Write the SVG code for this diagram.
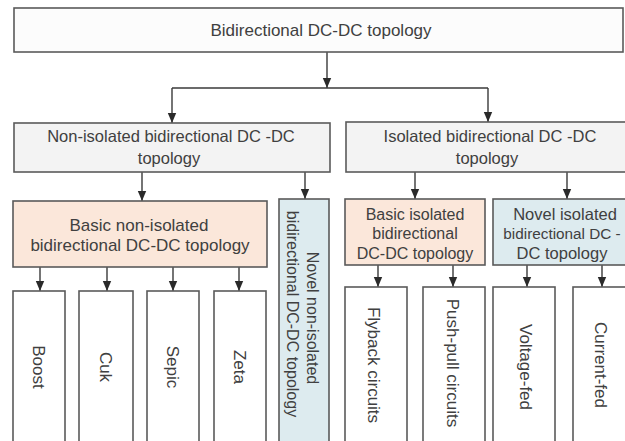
<svg xmlns="http://www.w3.org/2000/svg" width="625" height="441" viewBox="0 0 625 441">
<style>
  .box{stroke:#5a5a5a;stroke-width:1.6}
  .top{fill:#fcfcfc}
  .l2{fill:#f3f3f3}
  .peach{fill:#fbe7da}
  .blue{fill:#ddebef}
  .leaf{fill:#ffffff}
  text{font-family:"Liberation Sans",Arial,sans-serif;fill:#404040;text-anchor:middle}
  .t17{font-size:17px}
  .t16{font-size:16.5px}
  .t15{font-size:16px}
  .conn{stroke:#3a3a3a;stroke-width:1.4;fill:none}
</style>
<defs>
  <marker id="arr" markerUnits="userSpaceOnUse" markerWidth="10" markerHeight="10" viewBox="0 0 10 10" refX="10" refY="5" orient="auto">
    <path d="M0,0.8 L10,5 L0,9.2 Z" fill="#2a2a2a"/>
  </marker>
</defs>
<rect width="625" height="441" fill="#ffffff"/>

<g id="connectors">
  <path class="conn" d="M327 52 V88" marker-end="url(#arr)"/>
  <path class="conn" d="M172 88 H488"/>
  <path class="conn" d="M172 88 V123" marker-end="url(#arr)"/>
  <path class="conn" d="M488 88 V122" marker-end="url(#arr)"/>
  <path class="conn" d="M142 172 V201" marker-end="url(#arr)"/>
  <path class="conn" d="M305 172 V199" marker-end="url(#arr)"/>
  <path class="conn" d="M415 172 V199" marker-end="url(#arr)"/>
  <path class="conn" d="M567 172 V199" marker-end="url(#arr)"/>
  <path class="conn" d="M40 267 V291" marker-end="url(#arr)"/>
  <path class="conn" d="M107 267 V291" marker-end="url(#arr)"/>
  <path class="conn" d="M173 267 V291" marker-end="url(#arr)"/>
  <path class="conn" d="M239 267 V291" marker-end="url(#arr)"/>
  <path class="conn" d="M378 265 V287" marker-end="url(#arr)"/>
  <path class="conn" d="M453 265 V287" marker-end="url(#arr)"/>
  <path class="conn" d="M527 265 V287" marker-end="url(#arr)"/>
  <path class="conn" d="M602 265 V287" marker-end="url(#arr)"/>
</g>

<g id="n-root">
  <rect class="box top" x="14" y="8" width="609" height="44"/>
  <text class="t17" x="321" y="36">Bidirectional DC-DC topology</text>
</g>

<g id="n-nonisolated">
  <rect class="box l2" x="14" y="123" width="316" height="49"/>
  <text class="t16" x="171" y="142">Non-isolated bidirectional DC -DC</text>
  <text class="t16" x="169" y="164">topology</text>
</g>

<g id="n-isolated">
  <rect class="box l2" x="346" y="122" width="290" height="50"/>
  <text class="t16" x="490" y="142">Isolated bidirectional DC -DC</text>
  <text class="t16" x="487" y="164">topology</text>
</g>

<g id="n-basic-nonisolated">
  <rect class="box peach" x="13" y="201" width="254" height="66"/>
  <text class="t17" x="139" y="231">Basic non-isolated</text>
  <text class="t17" x="140" y="251">bidirectional DC-DC topology</text>
</g>

<g id="n-novel-nonisolated">
  <rect class="box blue" x="279" y="199" width="50" height="260"/>
  <g transform="translate(304,318) rotate(90)">
    <text class="t15" x="0" y="-3">Novel non-isolated</text>
    <text class="t15" x="-4" y="17">bidirectional DC-DC topology</text>
  </g>
</g>

<g id="n-basic-isolated">
  <rect class="box peach" x="345" y="199" width="140" height="66"/>
  <text class="t15" x="415" y="220">Basic isolated</text>
  <text class="t15" x="415" y="239">bidirectional</text>
  <text class="t15" x="415" y="259">DC-DC topology</text>
</g>

<g id="n-novel-isolated">
  <rect class="box blue" x="493" y="199" width="150" height="66"/>
  <text class="t16" x="565" y="220">Novel isolated</text>
  <text x="562" y="239" style="font-size:15.3px">bidirectional DC -</text>
  <text class="t16" x="562" y="259">DC topology</text>
</g>

<g id="n-boost">
  <rect class="box leaf" x="13" y="291" width="52" height="170"/>
  <text class="t17" transform="translate(39,367) rotate(90)" y="6">Boost</text>
</g>
<g id="n-cuk">
  <rect class="box leaf" x="79" y="291" width="54" height="170"/>
  <text class="t17" transform="translate(106,367) rotate(90)" y="6">Cuk</text>
</g>
<g id="n-sepic">
  <rect class="box leaf" x="147" y="291" width="52" height="170"/>
  <text class="t17" transform="translate(173,367) rotate(90)" y="6">Sepic</text>
</g>
<g id="n-zeta">
  <rect class="box leaf" x="214" y="291" width="52" height="170"/>
  <text class="t17" transform="translate(240,367) rotate(90)" y="6">Zeta</text>
</g>

<g id="n-flyback">
  <rect class="box leaf" x="345" y="287" width="62" height="170"/>
  <text class="t17" transform="translate(374,365) rotate(90)" y="6">Flyback circuits</text>
</g>
<g id="n-pushpull">
  <rect class="box leaf" x="423" y="287" width="62" height="170"/>
  <text class="t17" transform="translate(453,363) rotate(90)" y="6">Push-pull circuits</text>
</g>
<g id="n-voltagefed">
  <rect class="box leaf" x="493" y="287" width="62" height="170"/>
  <text class="t17" transform="translate(526,367) rotate(90)" y="6">Voltage-fed</text>
</g>
<g id="n-currentfed">
  <rect class="box leaf" x="573" y="287" width="62" height="170"/>
  <text class="t17" transform="translate(601,365) rotate(90)" y="6">Current-fed</text>
</g>
</svg>
